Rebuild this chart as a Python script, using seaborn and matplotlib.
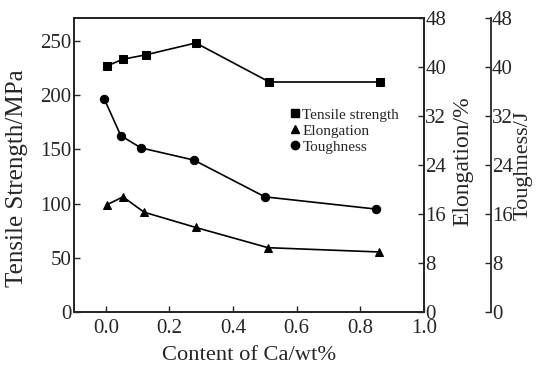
import matplotlib
matplotlib.use('Agg')
import matplotlib.pyplot as plt
from matplotlib.lines import Line2D
import pandas as pd
import seaborn as sns

# values
x_strength = [0.005, 0.054, 0.125, 0.283, 0.514, 0.861]
strength = [227, 233, 237, 248, 212, 212]
x_elong = [0.003, 0.054, 0.12, 0.283, 0.51, 0.86]
elongation = [17.5, 18.8, 16.3, 13.8, 10.5, 9.8]
x_tough = [-0.005, 0.047, 0.11, 0.277, 0.50, 0.85]
toughness = [34.8, 28.8, 26.8, 24.8, 18.8, 16.8]

sns.set_style('ticks')
plt.rcParams['font.family'] = ['Liberation Serif', 'DejaVu Serif']
plt.rcParams['xtick.direction'] = 'in'
plt.rcParams['ytick.direction'] = 'in'
plt.rcParams['axes.linewidth'] = 1.3

fig = plt.figure(figsize=(5.37, 3.71), dpi=100)
ax = fig.add_axes([0.1378, 0.159, 0.6518, 0.7925])
ax2 = ax.twinx()
ax3 = ax.twinx()

df_s = pd.DataFrame({'x': x_strength, 'y': strength})
df_e = pd.DataFrame({'x': x_elong, 'y': elongation})
df_t = pd.DataFrame({'x': x_tough, 'y': toughness})

kw = dict(color='black', linewidth=1.2, markersize=6, markeredgecolor='black')
sns.lineplot(data=df_s, x='x', y='y', ax=ax, marker='s', **kw)
sns.lineplot(data=df_e, x='x', y='y', ax=ax2, marker='^', **kw)
sns.lineplot(data=df_t, x='x', y='y', ax=ax3, marker='o', **kw)

ax.set_xlim(-0.1, 1.0)
ax.set_ylim(0, 271)
ax.set_xticks([0.0, 0.2, 0.4, 0.6, 0.8, 1.0])
ax.set_yticks([0, 50, 100, 150, 200, 250])
for a in (ax2, ax3):
    a.set_ylim(0, 48)
    a.set_yticks([0, 8, 16, 24, 32, 40, 48])

fs = 15
ax.set_xlabel('Content of Ca/wt%', fontsize=16.2, labelpad=6)
ax.set_ylabel('Tensile Strength/MPa', fontsize=18)
ax2.set_ylabel('Elongation/%', fontsize=17)
ax3.set_ylabel('Toughness/J', fontsize=16)
ax.yaxis.set_label_coords(-0.131, 0.455)
ax2.yaxis.set_label_coords(1.08, 0.512)
ax3.yaxis.set_label_coords(1.255, 0.5)
ax.tick_params(labelsize=fs, length=4, width=1, pad=2)
ax2.tick_params(labelsize=fs, length=4, width=1, pad=1)
ax3.tick_params(labelsize=fs, length=4, width=1, pad=1)
ax.tick_params(axis='x', pad=5)

ax3.spines['right'].set_position(('axes', 1.19))
ax3.spines['top'].set_visible(False)
ax3.spines['bottom'].set_visible(False)
ax3.spines['left'].set_visible(False)

handles = [
    Line2D([], [], color='black', marker='s', linestyle='none', markersize=6),
    Line2D([], [], color='black', marker='^', linestyle='none', markersize=6),
    Line2D([], [], color='black', marker='o', linestyle='none', markersize=6),
]
labels = ['Tensile strength', 'Elongation', 'Toughness']
ax.legend(handles, labels, loc='upper left', bbox_to_anchor=(0.6, 0.715),
          frameon=False, fontsize=11, handlelength=0.6, handletextpad=0.2,
          labelspacing=0.15, borderaxespad=0)

fig.savefig('out.png', dpi=100)
